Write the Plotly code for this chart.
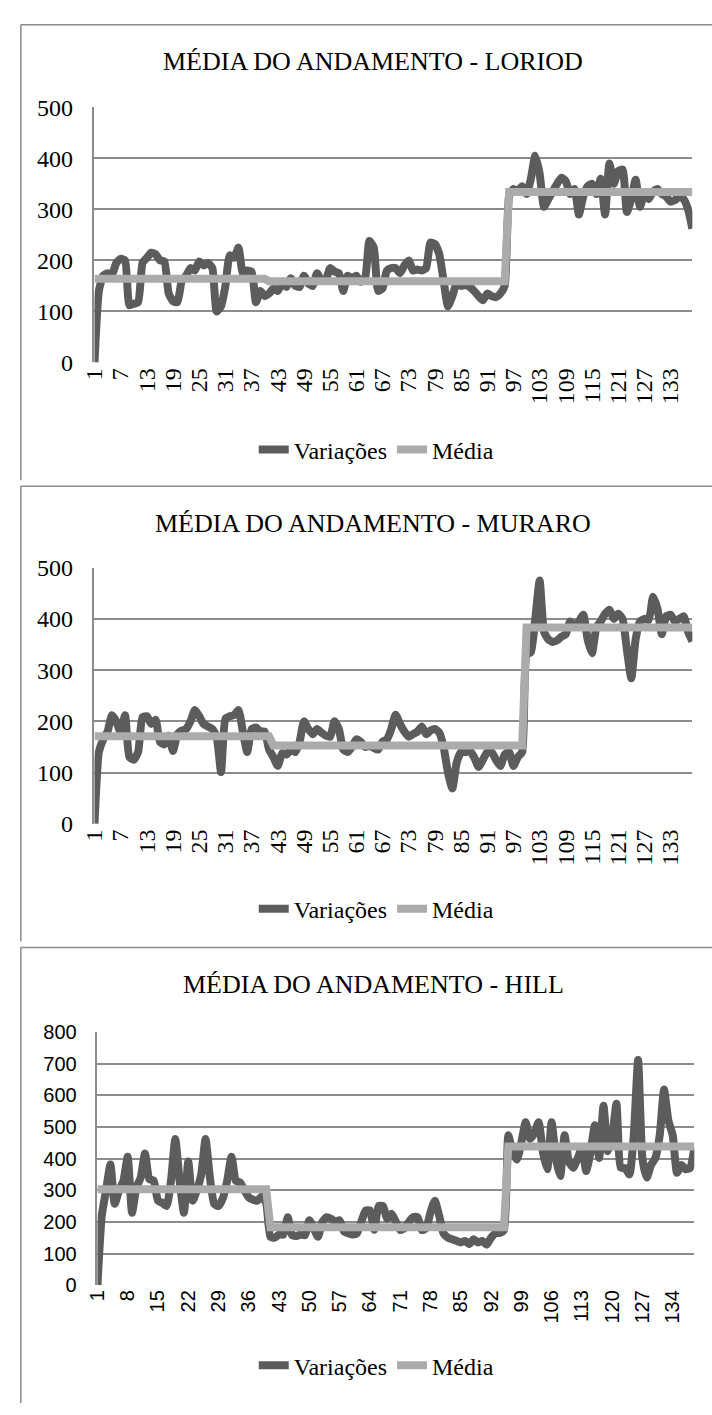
import plotly.graph_objects as go

W, H = 712, 1415

# ---------------- DATA ----------------
loriod_var = [
    0, 140, 170, 175, 172, 195, 203, 200, 112, 115,
    118, 195, 205, 215, 212, 200, 198, 135, 120, 118,
    160, 170, 185, 180, 198, 190, 195, 185, 100, 110,
    150, 210, 205, 225, 175, 180, 178, 118, 140, 130,
    135, 145, 140, 155, 148, 165, 150, 148, 170, 155,
    150, 175, 160, 162, 185, 178, 175, 140, 170, 165,
    170, 158, 165, 238, 225, 140, 145, 180, 185, 185,
    175, 190, 200, 180, 182, 180, 185, 235, 232, 212,
    160, 110, 130, 155, 150, 152, 148, 140, 130, 122,
    135, 130, 128, 135, 150, 325, 340, 335, 345, 330,
    360, 405, 370, 305, 320, 335, 350, 362, 355, 330,
    340, 290, 325, 345, 350, 330, 360, 290, 390, 350,
    375, 378, 295, 320, 358, 305, 330, 320, 335, 340,
    330, 325, 315, 318, 325, 320, 300, 262,
]
loriod_media = [
    164, 164, 164, 164, 164, 164, 164, 164, 164, 164,
    164, 164, 164, 164, 164, 164, 164, 164, 164, 164,
    164, 164, 164, 164, 164, 164, 164, 164, 164, 164,
    164, 164, 164, 164, 164, 164, 164, 164, 164, 164,
    159, 159, 159, 159, 159, 159, 159, 159, 159, 159,
    159, 159, 159, 159, 159, 159, 159, 159, 159, 159,
    159, 159, 159, 159, 159, 159, 159, 159, 159, 159,
    159, 159, 159, 159, 159, 159, 159, 159, 159, 159,
    159, 159, 159, 159, 159, 159, 159, 159, 159, 159,
    159, 159, 159, 159, 159, 334, 334, 334, 334, 334,
    334, 334, 334, 334, 334, 334, 334, 334, 334, 334,
    334, 334, 334, 334, 334, 334, 334, 334, 334, 334,
    334, 334, 334, 334, 334, 334, 334, 334, 334, 334,
    334, 334, 334, 334, 334, 334, 334, 334,
]

muraro_var = [
    0, 140, 165, 180, 212, 200, 178, 212, 130, 125,
    140, 208, 210, 195, 203, 160, 155, 172, 142, 175,
    182, 185, 200, 222, 210, 195, 190, 185, 170, 101,
    205, 210, 212, 222, 180, 140, 185, 188, 180, 180,
    145, 130, 113, 138, 135, 145, 140, 160, 200, 185,
    175, 185, 178, 172, 170, 200, 185, 145, 140, 150,
    165, 160, 150, 152, 148, 145, 160, 165, 185, 213,
    195, 180, 170, 175, 180, 190, 175, 182, 185, 178,
    150, 100, 69, 120, 140, 140, 142, 130, 111, 125,
    140, 140, 125, 113, 135, 140, 113, 130, 140, 330,
    335, 400, 475, 375, 360, 355, 358, 365, 370, 395,
    385, 395, 408, 360, 333, 383, 395, 410, 418, 400,
    410, 400, 340, 284, 360, 395, 400, 398, 443, 420,
    370, 405, 408, 395, 400, 405, 375, 356,
]
muraro_media = [
    171, 171, 171, 171, 171, 171, 171, 171, 171, 171,
    171, 171, 171, 171, 171, 171, 171, 171, 171, 171,
    171, 171, 171, 171, 171, 171, 171, 171, 171, 171,
    171, 171, 171, 171, 171, 171, 171, 171, 171, 171,
    171, 153, 153, 153, 153, 153, 153, 153, 153, 153,
    153, 153, 153, 153, 153, 153, 153, 153, 153, 153,
    153, 153, 153, 153, 153, 153, 153, 153, 153, 153,
    153, 153, 153, 153, 153, 153, 153, 153, 153, 153,
    153, 153, 153, 153, 153, 153, 153, 153, 153, 153,
    153, 153, 153, 153, 153, 153, 153, 153, 153, 383,
    383, 383, 383, 383, 383, 383, 383, 383, 383, 383,
    383, 383, 383, 383, 383, 383, 383, 383, 383, 383,
    383, 383, 383, 383, 383, 383, 383, 383, 383, 383,
    383, 383, 383, 383, 383, 383, 383, 383,
]

hill_var = [
    0, 220, 300, 381, 257, 300, 329, 406, 229, 308,
    340, 416, 335, 330, 267, 260, 250, 329, 462, 330,
    229, 391, 267, 300, 350, 462, 340, 257, 250, 275,
    330, 406, 330, 324, 300, 277, 270, 267, 280, 260,
    153, 150, 160, 160, 215, 158, 155, 160, 158, 205,
    180, 153, 200, 215, 210, 200, 205, 170, 164, 160,
    164, 200, 236, 236, 175, 250, 250, 210, 226, 200,
    174, 180, 200, 215, 215, 174, 180, 230, 267, 220,
    164, 150, 145, 140, 135, 140, 130, 145, 135, 140,
    128, 150, 164, 165, 175, 474, 420, 397, 450, 515,
    462, 480, 515, 420, 366, 515, 400, 345, 474, 390,
    371, 400, 433, 361, 420, 505, 402, 567, 423, 470,
    573, 371, 370, 350, 474, 711, 400, 340, 380, 402,
    474, 618, 520, 474, 355, 380, 366, 370, 433,
]
hill_media = [
    303, 303, 303, 303, 303, 303, 303, 303, 303, 303,
    303, 303, 303, 303, 303, 303, 303, 303, 303, 303,
    303, 303, 303, 303, 303, 303, 303, 303, 303, 303,
    303, 303, 303, 303, 303, 303, 303, 303, 303, 303,
    183, 183, 183, 183, 183, 183, 183, 183, 183, 183,
    183, 183, 183, 183, 183, 183, 183, 183, 183, 183,
    183, 183, 183, 183, 183, 183, 183, 183, 183, 183,
    183, 183, 183, 183, 183, 183, 183, 183, 183, 183,
    183, 183, 183, 183, 183, 183, 183, 183, 183, 183,
    183, 183, 183, 183, 183, 438, 438, 438, 438, 438,
    438, 438, 438, 438, 438, 438, 438, 438, 438, 438,
    438, 438, 438, 438, 438, 438, 438, 438, 438, 438,
    438, 438, 438, 438, 438, 438, 438, 438, 438, 438,
    438, 438, 438, 438, 438, 438, 438, 438, 438,
]

titles = ["MÉDIA DO ANDAMENTO - LORIOD",
          "MÉDIA DO ANDAMENTO - MURARO",
          "MÉDIA DO ANDAMENTO - HILL"]
series_names = ["Variações", "Média"]
x_ticks_6 = [1, 7, 13, 19, 25, 31, 37, 43, 49, 55, 61, 67, 73, 79, 85, 91,
             97, 103, 109, 115, 121, 127, 133]
x_ticks_7 = [1, 8, 15, 22, 29, 36, 43, 50, 57, 64, 71, 78, 85, 92, 99, 106,
             113, 120, 127, 134]

# ---------------- LAYOUT GEOMETRY (pixels) ----------------
def py(v):
    return 1 - v / H

def px(v):
    return v / W

SERIF = "Liberation Serif"
SANS = "Liberation Sans"
DARK = "#5c5c5c"
LIGHT = "#ababab"
GRID = "#8c8c8c"

panels = [
    dict(var=loriod_var, media=loriod_media, title=titles[0], ticks=x_ticks_6,
         xdom=(83, 692), ytop=96, ybot=356, ymax=500, title_y=49, leg_y=445,
         top=12, bottom=476, tickfont=SERIF, tsize=24),
    dict(var=muraro_var, media=muraro_media, title=titles[1], ticks=x_ticks_6,
         xdom=(83, 692), ytop=565, ybot=826, ymax=500, title_y=520, leg_y=913,
         top=482, bottom=946, tickfont=SERIF, tsize=24),
    dict(var=hill_var, media=hill_media, title=titles[2], ticks=x_ticks_7,
         xdom=(86, 694), ytop=1038, ybot=1296, ymax=800, title_y=990, leg_y=1378,
         top=952, bottom=1416, tickfont=SANS, tsize=20),
]

fig = go.Figure()
layout = dict(
    width=W, height=H, autosize=False,
    margin=dict(l=0, r=0, t=0, b=0),
    paper_bgcolor="white", plot_bgcolor="white",
    annotations=[], shapes=[],
)

for k, p in enumerate(panels, start=1):
    sfx = "" if k == 1 else str(k)
    leg = "legend" if k == 1 else f"legend{k}"
    n = len(p["var"])
    xs = list(range(1, n + 1))
    fig.add_trace(go.Scatter(
        x=xs, y=p["var"], mode="lines", name=series_names[0],
        line=dict(color=DARK, width=8, shape="spline", smoothing=0.5),
        xaxis="x" + sfx, yaxis="y" + sfx, legend=leg,
    ))
    fig.add_trace(go.Scatter(
        x=xs, y=p["media"], mode="lines", name=series_names[1],
        line=dict(color=LIGHT, width=8), xaxis="x" + sfx, yaxis="y" + sfx,
        legend=leg,
    ))
    layout["xaxis" + sfx] = dict(
        domain=[px(p["xdom"][0]), px(p["xdom"][1])],
        range=[1, n], anchor="y" + sfx,
        tickmode="array", tickvals=p["ticks"], ticktext=[str(t) for t in p["ticks"]],
        tickangle=-90, showgrid=False, zeroline=False, showline=False, ticks="",
        tickfont=dict(family=p["tickfont"], size=p["tsize"], color="black"),
        fixedrange=True,
    )
    layout["yaxis" + sfx] = dict(
        domain=[py(p["ybot"]), py(p["ytop"])],
        range=[0, p["ymax"]], dtick=100, anchor="x" + sfx,
        showgrid=True, gridcolor=GRID, gridwidth=1.5,
        zeroline=False, showline=True, linecolor=GRID, linewidth=1.5,
        ticks="", ticklabelstandoff=15,
        tickfont=dict(family=p["tickfont"], size=p["tsize"], color="black"),
        fixedrange=True,
    )
    layout[leg] = dict(
        orientation="h", x=px(370), xanchor="center", y=py(p["leg_y"]),
        yanchor="middle", font=dict(family=SERIF, size=24, color="black"),
        bgcolor="rgba(0,0,0,0)", itemwidth=30, tracegroupgap=0,
    )
    layout["annotations"].append(dict(
        text=p["title"], x=px(367), y=py(p["title_y"]), xref="paper", yref="paper",
        xanchor="center", yanchor="middle", showarrow=False,
        font=dict(family=SERIF, size=26, color="black"),
    ))
    # panel frame: top and left edges
    layout["shapes"].append(dict(
        type="line", xref="paper", yref="paper",
        x0=px(8), x1=px(712), y0=py(p["top"]), y1=py(p["top"]),
        line=dict(color="#8a8a8a", width=1.5),
    ))
    layout["shapes"].append(dict(
        type="line", xref="paper", yref="paper",
        x0=px(8), x1=px(8), y0=py(p["top"]), y1=py(p["bottom"]),
        line=dict(color="#8a8a8a", width=1.5),
    ))

fig.update_layout(**layout)
fig.write_html(
    "out.html",
    config={"displayModeBar": False},
    post_script="document.body.style.margin='0';document.body.style.overflow='hidden';",
)
